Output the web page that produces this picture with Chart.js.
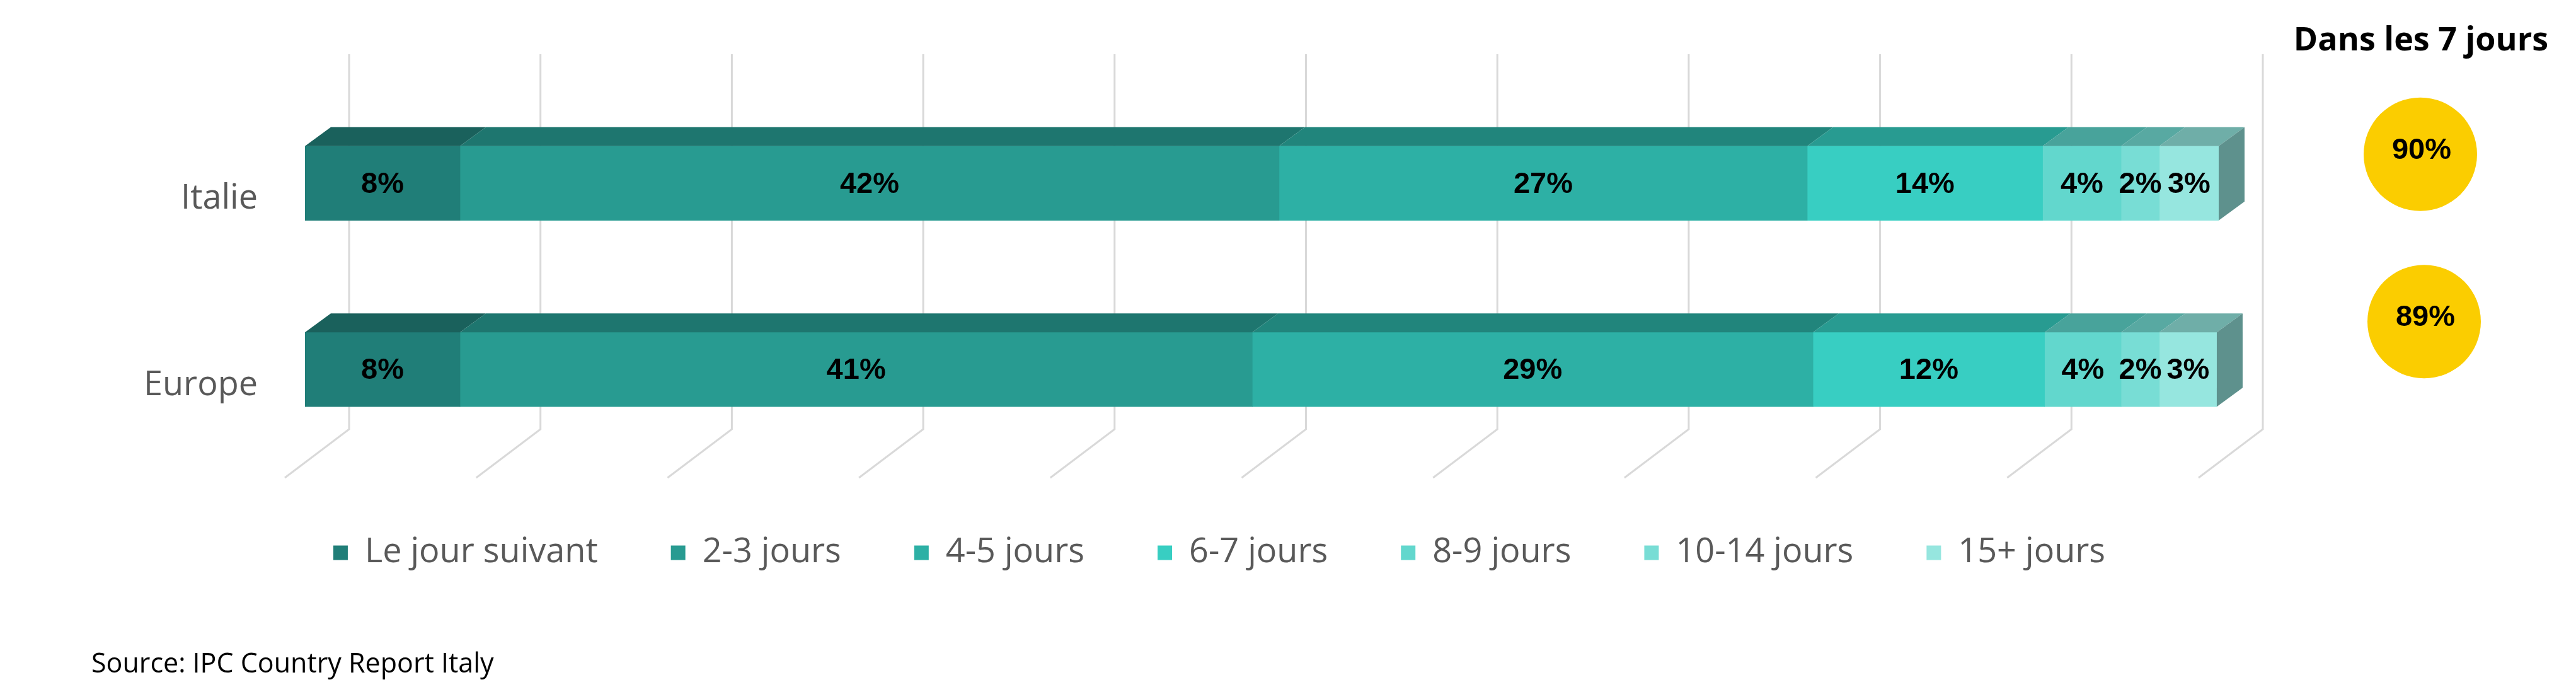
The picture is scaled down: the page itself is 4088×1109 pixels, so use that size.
<!DOCTYPE html>
<html>
<head>
<meta charset="utf-8">
<script src="https://cdn.jsdelivr.net/npm/chart.js@4.4.0/dist/chart.umd.min.js"></script>
<style>
  html, body { margin: 0; padding: 0; background: #fff; }
  #wrap { width: 4088px; height: 1109px; }
</style>
</head>
<body>
<div id="wrap"><canvas id="deliveryChart" width="4088" height="1109"></canvas></div>
<script>
const regions = ["Italie", "Europe"];
const buckets = ["Le jour suivant", "2-3 jours", "4-5 jours", "6-7 jours", "8-9 jours", "10-14 jours", "15+ jours"];

// bar lengths as drawn in the picture (%)
const italieValues = [8.1, 42.8, 27.6, 12.3, 4.1, 2.0, 3.1];
const europeValues = [8.1, 41.4, 29.3, 12.1, 4.0, 2.0, 3.0];

// labels printed on the bars
const italieLabels = ["8%", "42%", "27%", "14%", "4%", "2%", "3%"];
const europeLabels = ["8%", "41%", "29%", "12%", "4%", "2%", "3%"];

// share delivered within 7 days
const within7Title = "Dans les 7 jours";
const within7 = ["90%", "89%"];

const gridValues = [0, 10, 20, 30, 40, 50, 60, 70, 80, 90, 100];
const sourceNote = "Source: IPC Country Report Italy";

const frontColors = ["#207e78", "#289b91", "#2db0a5", "#38cec2", "#62d7cd", "#78ddd5", "#96e6df"];
const topColors = ["#1a615c", "#1e766f", "#21857c", "#289b91", "#48a39b", "#58a9a2", "#6faea8"];
const sideColor = "#5e918d";

const uiFont = "Open Sans";
const numFont = "Liberation Sans";

// back wall grid + floor lines
const wallGrid = {
  id: "wallGrid",
  beforeDatasetsDraw(chart) {
    const {ctx, chartArea} = chart;
    const xs = chart.scales.x;
    ctx.save();
    ctx.strokeStyle = "#d9d9d9";
    ctx.lineWidth = 3;
    gridValues.forEach(v => {
      const x = xs.getPixelForValue(v) + 70;
      const yb = chartArea.bottom - 53;
      ctx.beginPath();
      ctx.moveTo(x, chartArea.top - 57);
      ctx.lineTo(x, yb);
      ctx.lineTo(x - 102, yb + 77);
      ctx.stroke();
    });
    ctx.restore();
  }
};

// top faces, side face and value labels
const barFaces = {
  id: "barFaces",
  afterDatasetsDraw(chart) {
    const ctx = chart.ctx;
    const dx = 41, dy = -30;
    const n = chart.data.datasets.length;
    ctx.save();
    chart.data.datasets.forEach((ds, i) => {
      chart.getDatasetMeta(i).data.forEach(bar => {
        const top = bar.y - bar.height / 2;
        const bottom = bar.y + bar.height / 2;
        ctx.fillStyle = topColors[i];
        ctx.beginPath();
        ctx.moveTo(bar.base, top);
        ctx.lineTo(bar.x, top);
        ctx.lineTo(bar.x + dx, top + dy);
        ctx.lineTo(bar.base + dx, top + dy);
        ctx.closePath();
        ctx.fill();
        if (i === n - 1) {
          ctx.fillStyle = sideColor;
          ctx.beginPath();
          ctx.moveTo(bar.x, top);
          ctx.lineTo(bar.x + dx, top + dy);
          ctx.lineTo(bar.x + dx, bottom + dy);
          ctx.lineTo(bar.x, bottom);
          ctx.closePath();
          ctx.fill();
        }
      });
    });
    ctx.fillStyle = "#000";
    ctx.font = "bold 47px '" + numFont + "'";
    ctx.textAlign = "center";
    ctx.textBaseline = "middle";
    chart.data.datasets.forEach((ds, i) => {
      chart.getDatasetMeta(i).data.forEach((bar, j) => {
        ctx.fillText(ds.printed[j], (bar.x + bar.base) / 2, bar.y + 2);
      });
    });
    ctx.restore();
  }
};

// right-hand circles, title and source line
const sideNotes = {
  id: "sideNotes",
  afterDraw(chart) {
    const ctx = chart.ctx;
    const ys = chart.scales.y;
    const edge = chart.scales.y2.right;
    ctx.save();
    ctx.fillStyle = "#000";
    ctx.font = "bold 52px '" + uiFont + "'";
    ctx.textAlign = "center";
    ctx.textBaseline = "alphabetic";
    ctx.fillText(within7Title, edge - 28, 80);

    const lift = [46, 76];
    const cx = [edge - 29, edge - 23];
    within7.forEach((txt, j) => {
      const cy = ys.getPixelForValue(j) - lift[j];
      ctx.fillStyle = "#fbcd00";
      ctx.beginPath();
      ctx.arc(cx[j], cy, 90, 0, Math.PI * 2);
      ctx.fill();
      ctx.fillStyle = "#000";
      ctx.font = "bold 47px '" + numFont + "'";
      ctx.textBaseline = "middle";
      ctx.fillText(txt, cx[j] + 2, cy - 6);
    });

    ctx.font = "43px '" + uiFont + "'";
    ctx.textAlign = "left";
    ctx.textBaseline = "alphabetic";
    ctx.fillText(sourceNote, 145, 1067);
    ctx.restore();
  }
};

const ctx = document.getElementById("deliveryChart").getContext("2d");
new Chart(ctx, {
  type: "bar",
  data: {
    labels: regions,
    datasets: buckets.map((name, i) => ({
      label: name,
      data: [italieValues[i], europeValues[i]],
      printed: [italieLabels[i], europeLabels[i]],
      backgroundColor: frontColors[i],
      borderWidth: 0,
      barThickness: 118
    }))
  },
  options: {
    indexAxis: "y",
    responsive: false,
    animation: false,
    layout: { padding: { left: 0, right: 218, top: 143, bottom: 195 } },
    scales: {
      x: { stacked: true, min: 0, max: 100, display: false },
      y: {
        stacked: true,
        grid: { display: false, drawTicks: false },
        border: { display: false },
        ticks: { color: "#595959", font: { family: uiFont, size: 54 }, padding: 75, labelOffset: 25 },
        afterFit(scale) { scale.width = 484; }
      },
      // empty right column that holds the "Dans les 7 jours" circles
      y2: {
        type: "category",
        position: "right",
        grid: { display: false, drawTicks: false },
        border: { display: false },
        ticks: { display: false },
        afterFit(scale) { scale.width = 349; }
      }
    },
    plugins: {
      legend: {
        position: "bottom",
        labels: { boxWidth: 23, boxHeight: 23, padding: 116, color: "#595959", font: { family: uiFont, size: 54 } }
      },
      tooltip: { enabled: false }
    }
  },
  plugins: [wallGrid, barFaces, sideNotes]
});
</script>
</body>
</html>
